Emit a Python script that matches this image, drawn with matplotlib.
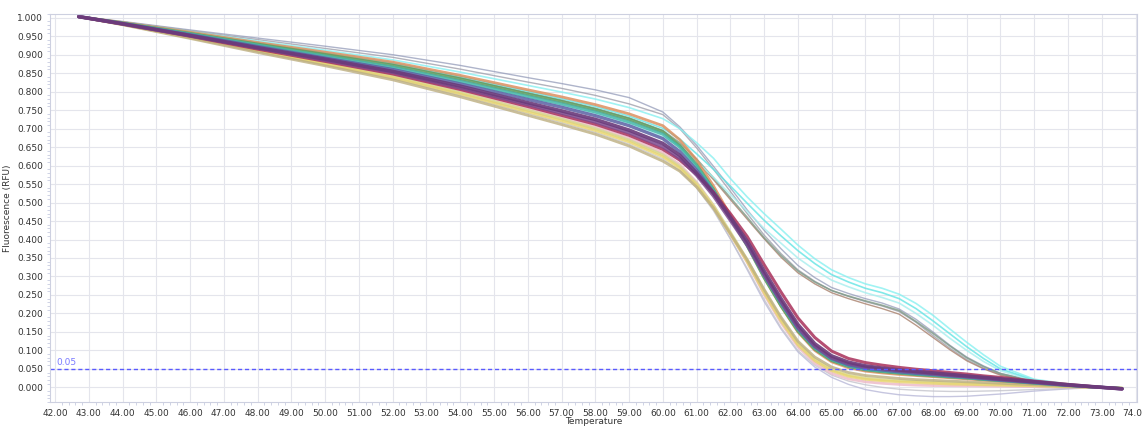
import matplotlib
matplotlib.use("Agg")
import matplotlib.pyplot as plt
from matplotlib.ticker import FormatStrFormatter, MultipleLocator

temps = [42.7, 44, 46, 48, 50, 52, 54, 56, 57, 58, 59, 60, 60.5, 61, 61.5, 62,
         62.5, 63, 63.5, 64, 64.5, 65, 65.5, 66, 66.5, 67, 67.5, 68, 68.5, 69, 69.5, 70,
         71, 72, 73, 73.6]

# lower wells (melt a bit earlier, settle near / below zero)
grey_low = [1.003, 0.982, 0.946, 0.910, 0.874, 0.838, 0.795, 0.748, 0.725, 0.700, 0.670, 0.631, 0.598, 0.550, 0.482, 0.402,
            0.318, 0.232, 0.158, 0.096, 0.055, 0.027, 0.008, -0.006, -0.014, -0.020, -0.023, -0.025, -0.025, -0.024, -0.021, -0.018,
            -0.010, -0.004, 0.000, -0.002]
grey_low2 = [1.003, 0.981, 0.945, 0.908, 0.872, 0.835, 0.790, 0.741, 0.716, 0.690, 0.658, 0.618, 0.586, 0.540, 0.478, 0.402,
             0.322, 0.238, 0.162, 0.100, 0.060, 0.033, 0.017, 0.007, 0.000, -0.005, -0.008, -0.010, -0.011, -0.011, -0.010, -0.009,
             -0.006, -0.003, 0.000, -0.002]
pink = [1.003, 0.982, 0.948, 0.914, 0.880, 0.845, 0.802, 0.754, 0.730, 0.705, 0.674, 0.635, 0.603, 0.555, 0.492, 0.415,
        0.338, 0.252, 0.175, 0.110, 0.066, 0.038, 0.023, 0.015, 0.011, 0.008, 0.006, 0.005, 0.0045, 0.004, 0.0035, 0.003,
        0.002, 0.001, 0.000, -0.002]
lime = [1.003, 0.982, 0.947, 0.912, 0.877, 0.842, 0.798, 0.750, 0.726, 0.700, 0.669, 0.629, 0.598, 0.552, 0.492, 0.420,
        0.345, 0.262, 0.186, 0.120, 0.076, 0.048, 0.033, 0.025, 0.021, 0.018, 0.016, 0.014, 0.012, 0.011, 0.009, 0.008,
        0.005, 0.002, 0.000, -0.002]
yellow = [1.003, 0.982, 0.946, 0.910, 0.874, 0.838, 0.794, 0.745, 0.721, 0.695, 0.664, 0.624, 0.593, 0.547, 0.487, 0.415,
          0.340, 0.256, 0.180, 0.115, 0.072, 0.045, 0.030, 0.022, 0.018, 0.015, 0.013, 0.011, 0.009, 0.008, 0.007, 0.006,
          0.004, 0.002, 0.000, -0.002]
tan = [1.003, 0.981, 0.944, 0.906, 0.870, 0.832, 0.786, 0.736, 0.711, 0.685, 0.653, 0.612, 0.585, 0.542, 0.485, 0.416,
       0.345, 0.265, 0.190, 0.125, 0.082, 0.055, 0.040, 0.032, 0.028, 0.024, 0.021, 0.019, 0.017, 0.015, 0.013, 0.011,
       0.007, 0.003, 0.000, -0.003]

# main band
orange = [1.003, 0.987, 0.961, 0.933, 0.907, 0.880, 0.844, 0.805, 0.786, 0.765, 0.740, 0.708, 0.670, 0.615, 0.545, 0.465,
          0.385, 0.298, 0.220, 0.150, 0.100, 0.069, 0.053, 0.044, 0.039, 0.035, 0.032, 0.029, 0.026, 0.023, 0.020, 0.017,
          0.011, 0.005, 0.000, -0.003]
green = [1.003, 0.986, 0.958, 0.929, 0.901, 0.872, 0.835, 0.794, 0.774, 0.752, 0.726, 0.692, 0.655, 0.603, 0.536, 0.458,
         0.382, 0.296, 0.220, 0.152, 0.103, 0.072, 0.056, 0.047, 0.042, 0.038, 0.034, 0.031, 0.028, 0.025, 0.021, 0.018,
         0.011, 0.005, 0.000, -0.003]
teal = [1.003, 0.985, 0.956, 0.926, 0.896, 0.866, 0.828, 0.787, 0.767, 0.745, 0.718, 0.685, 0.650, 0.598, 0.533, 0.459,
        0.385, 0.302, 0.226, 0.157, 0.107, 0.075, 0.058, 0.049, 0.044, 0.040, 0.036, 0.033, 0.029, 0.026, 0.022, 0.019,
        0.012, 0.005, 0.000, -0.003]
blue = [1.003, 0.984, 0.954, 0.922, 0.891, 0.860, 0.821, 0.779, 0.758, 0.735, 0.708, 0.673, 0.638, 0.588, 0.527, 0.458,
        0.388, 0.306, 0.230, 0.160, 0.110, 0.078, 0.061, 0.052, 0.047, 0.042, 0.038, 0.035, 0.031, 0.028, 0.024, 0.020,
        0.013, 0.006, 0.000, -0.004]
purple = [1.003, 0.984, 0.952, 0.919, 0.888, 0.855, 0.815, 0.770, 0.748, 0.725, 0.696, 0.660, 0.628, 0.580, 0.525, 0.460,
          0.395, 0.315, 0.240, 0.170, 0.118, 0.085, 0.068, 0.058, 0.052, 0.047, 0.043, 0.039, 0.035, 0.031, 0.027, 0.023,
          0.015, 0.007, 0.000, -0.004]
purple2 = [1.003, 0.983, 0.951, 0.918, 0.885, 0.852, 0.810, 0.765, 0.742, 0.718, 0.689, 0.651, 0.620, 0.574, 0.518, 0.452,
           0.385, 0.305, 0.232, 0.163, 0.112, 0.080, 0.064, 0.055, 0.050, 0.045, 0.041, 0.037, 0.033, 0.029, 0.025, 0.021,
           0.014, 0.006, 0.000, -0.004]
magenta = [1.003, 0.983, 0.950, 0.915, 0.882, 0.848, 0.806, 0.760, 0.736, 0.712, 0.682, 0.644, 0.615, 0.576, 0.528, 0.470,
           0.408, 0.332, 0.258, 0.188, 0.135, 0.098, 0.078, 0.067, 0.060, 0.054, 0.049, 0.045, 0.040, 0.036, 0.031, 0.027,
           0.017, 0.008, 0.000, -0.004]

# second product: shoulder around 65-68
cyan1 = [1.003, 0.987, 0.960, 0.932, 0.906, 0.878, 0.841, 0.801, 0.781, 0.760, 0.734, 0.701, 0.672, 0.632, 0.590, 0.545,
         0.498, 0.452, 0.410, 0.370, 0.335, 0.305, 0.285, 0.268, 0.256, 0.240, 0.213, 0.180, 0.145, 0.110, 0.078, 0.050,
         0.020, 0.008, 0.001, -0.003]
cyan2 = [1.003, 0.988, 0.963, 0.937, 0.912, 0.886, 0.853, 0.817, 0.799, 0.780, 0.757, 0.727, 0.700, 0.662, 0.620, 0.565,
         0.515, 0.470, 0.428, 0.385, 0.348, 0.318, 0.297, 0.280, 0.268, 0.252, 0.227, 0.195, 0.158, 0.122, 0.088, 0.057,
         0.022, 0.009, 0.001, -0.003]
cyan3 = [1.003, 0.985, 0.955, 0.924, 0.894, 0.863, 0.825, 0.783, 0.762, 0.740, 0.713, 0.678, 0.652, 0.612, 0.568, 0.522,
         0.476, 0.430, 0.390, 0.350, 0.318, 0.290, 0.272, 0.256, 0.243, 0.228, 0.200, 0.168, 0.133, 0.100, 0.070, 0.045,
         0.018, 0.007, 0.001, -0.003]
grey_sh = [1.003, 0.989, 0.965, 0.941, 0.917, 0.893, 0.861, 0.826, 0.809, 0.790, 0.767, 0.738, 0.700, 0.648, 0.590, 0.530,
           0.470, 0.412, 0.362, 0.318, 0.287, 0.262, 0.246, 0.232, 0.220, 0.205, 0.176, 0.140, 0.106, 0.075, 0.052, 0.035,
           0.016, 0.006, 0.000, -0.004]
slate_sh = [1.003, 0.990, 0.967, 0.945, 0.923, 0.900, 0.871, 0.838, 0.822, 0.805, 0.784, 0.745, 0.705, 0.655, 0.598, 0.540,
            0.480, 0.425, 0.375, 0.330, 0.297, 0.270, 0.254, 0.240, 0.228, 0.212, 0.184, 0.150, 0.114, 0.082, 0.058, 0.038,
            0.017, 0.006, 0.000, -0.004]
brown_sh = [1.003, 0.985, 0.956, 0.927, 0.898, 0.868, 0.831, 0.790, 0.770, 0.748, 0.722, 0.688, 0.655, 0.612, 0.562, 0.508,
            0.455, 0.402, 0.352, 0.310, 0.280, 0.256, 0.240, 0.226, 0.213, 0.198, 0.168, 0.135, 0.102, 0.072, 0.050, 0.033,
            0.015, 0.006, 0.000, -0.004]
sage_sh = [1.003, 0.986, 0.959, 0.931, 0.903, 0.875, 0.838, 0.797, 0.777, 0.755, 0.729, 0.695, 0.662, 0.618, 0.567, 0.513,
           0.460, 0.405, 0.357, 0.315, 0.285, 0.262, 0.247, 0.234, 0.222, 0.208, 0.178, 0.146, 0.112, 0.080, 0.056, 0.037,
           0.016, 0.006, 0.000, -0.004]

threshold = 0.05

fig = plt.figure(figsize=(11.42, 4.26), dpi=100)
ax = fig.add_axes([0.0438, 0.056, 0.952, 0.911])

# drawing order: faint wells first, main band last so the purple core sits on top
wells = [
    (grey_low, "#b8b8d8", 1.0, 0.8),
    (grey_low2, "#c4c4cc", 1.0, 0.8),
    (slate_sh, "#8c94b4", 1.0, 0.7),
    (grey_sh, "#a0a0ac", 1.0, 0.8),
    (brown_sh, "#a8806c", 1.0, 0.8),
    (sage_sh, "#7e9a86", 1.2, 0.8),
    (cyan3, "#a6eeee", 1.2, 0.8),
    (cyan1, "#62e4e4", 1.2, 0.8),
    (cyan2, "#88f0f0", 1.2, 0.8),
    (pink, "#ecb8c6", 2.0, 0.8),
    (lime, "#d8dc8e", 2.0, 0.8),
    (yellow, "#e8d46e", 2.0, 0.8),
    (tan, "#bcae80", 2.0, 0.8),
    (orange, "#dc9060", 2.0, 0.85),
    (green, "#5e9e60", 2.0, 0.85),
    (teal, "#44b8aa", 2.2, 0.85),
    (blue, "#5c60a4", 2.4, 0.85),
    (magenta, "#a8305a", 2.2, 0.85),
    (purple2, "#7c4a8e", 2.4, 0.85),
    (purple, "#6a3a7a", 2.6, 0.9),
]
for values, color, lw, alpha in wells:
    ax.plot(temps, values, color=color, lw=lw, alpha=alpha, solid_capstyle="round", solid_joinstyle="round")

ax.axhline(threshold, color="#5a5aff", lw=1.0, dashes=(3, 2))
ax.text(42.05, threshold + 0.004, "0.05", color="#7a7aff", fontsize=6.5, va="bottom")

ax.set_xlim(41.85, 74.05)
ax.set_ylim(-0.04, 1.01)
ax.xaxis.set_major_locator(MultipleLocator(1))
ax.yaxis.set_major_locator(MultipleLocator(0.05))
ax.xaxis.set_minor_locator(MultipleLocator(0.2))
ax.yaxis.set_minor_locator(MultipleLocator(0.01))
ax.xaxis.set_major_formatter(FormatStrFormatter("%.2f"))
ax.yaxis.set_major_formatter(FormatStrFormatter("%.3f"))
ax.grid(True, which="major", color="#e4e5ec", lw=0.8)
ax.set_axisbelow(True)
ax.tick_params(which="major", length=0, labelsize=6.5, labelcolor="#333333", pad=5)
ax.tick_params(which="minor", length=2, color="#c8cce0", width=0.6)
for side in ax.spines.values():
    side.set_color("#cdd0e0")
    side.set_linewidth(0.8)

ax.set_xlabel("Temperature", fontsize=6.5, color="#333333", labelpad=-1)
ax.set_ylabel("Fluorescence (RFU)", fontsize=6.5, color="#333333", labelpad=4)

fig.savefig("out.png", dpi=100)
